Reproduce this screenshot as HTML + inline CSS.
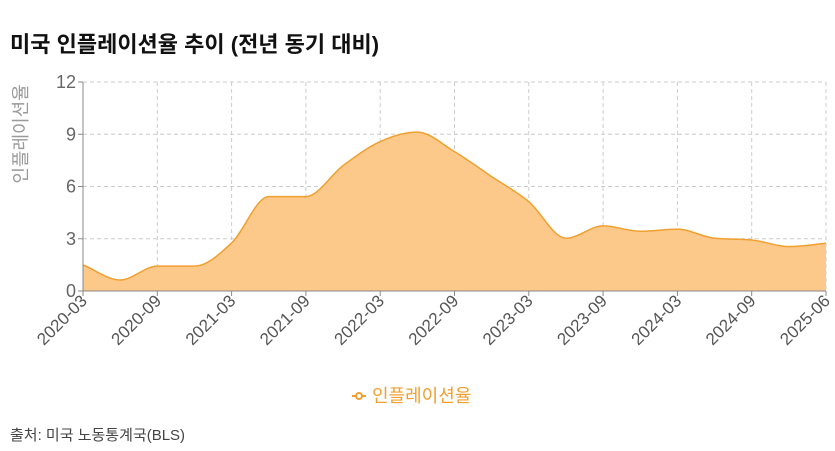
<!DOCTYPE html>
<html><head><meta charset="utf-8"><style>
body{margin:0;background:#fff;width:835px;height:446px;overflow:hidden;font-family:"Liberation Sans","Noto Sans CJK KR",sans-serif}
</style></head><body>
<svg width="835" height="446" xmlns="http://www.w3.org/2000/svg" style="font-family:'Liberation Sans','Noto Sans CJK KR',sans-serif">
<text x="10" y="52" font-size="22" font-weight="bold" fill="#111">미국 인플레이션율 추이 (전년 동기 대비)</text>
<g id="grid"></g>
<g id="series"></g>
<g id="axes"></g>
<text transform="translate(27,134) rotate(-90)" text-anchor="middle" font-size="18" fill="#999">인플레이션율</text>
<g>
<line x1="352" y1="396" x2="366" y2="396" stroke="#f0a030" stroke-width="2"/>
<circle cx="359" cy="396" r="3" fill="#fff" stroke="#f0a030" stroke-width="2"/>
<text x="372" y="402" font-size="18" fill="#f0a030">인플레이션율</text>
</g>
<text x="10" y="440" font-size="15" fill="#444">출처: 미국 노동통계국(BLS)</text>
</svg>
<script>
const categories=["2020-03","2020-06","2020-09","2020-12","2021-03","2021-06","2021-09","2021-12","2022-03","2022-06","2022-09","2022-12","2023-03","2023-06","2023-09","2023-12","2024-03","2024-06","2024-09","2025-01","2025-06"];
const values=[1.5,0.63,1.43,1.43,2.76,5.42,5.42,7.2,8.58,9.12,8.0,6.57,5.13,3.03,3.74,3.43,3.55,3.03,2.93,2.55,2.74];
const yTicks=[0,3,6,9,12];
const xLabelIdx=[0,2,4,6,8,10,12,14,16,18,20];
const NS="http://www.w3.org/2000/svg";
const L=83,R=826,T=82,B=291,yMax=12;
const xs=i=>L+i*(R-L)/(categories.length-1);
const ys=v=>B-v*(B-T)/yMax;
function mk(t,a,p){const e=document.createElementNS(NS,t);for(const k in a)e.setAttribute(k,a[k]);p.appendChild(e);return e;}
const grid=document.getElementById('grid'),axes=document.getElementById('axes'),series=document.getElementById('series');
yTicks.forEach(v=>{
 const g=mk('line',{x1:L,x2:R,y1:ys(v),y2:ys(v),stroke:'#ccc','stroke-dasharray':'4,3'},grid);
 
 
 const t=mk('text',{x:L-7,y:ys(v)+6,'text-anchor':'end','font-size':'18',fill:'#666'},axes);
 t.textContent=v;
 
 
 mk('line',{x1:L-5,x2:L,y1:ys(v),y2:ys(v),stroke:'#888'},axes);
});
xLabelIdx.forEach(i=>{
 const x=xs(i);
 const g=mk('line',{x1:x,x2:x,y1:T,y2:B,stroke:'#ccc','stroke-dasharray':'4,3'},grid);
 
 
 mk('line',{x1:x,x2:x,y1:B,y2:B+5,stroke:'#888'},axes);
 const t=mk('text',{transform:`translate(${x+5},${B+11}) rotate(-45)`,'text-anchor':'end','font-size':'17',fill:'#555'},axes);
 t.textContent=categories[i];
 
 
});
mk('line',{x1:L,x2:L,y1:T,y2:B,stroke:'#888'},axes);
mk('line',{x1:L,x2:R,y1:B,y2:B,stroke:'#888'},axes);
const P=values.map((v,i)=>[xs(i),ys(v)]);
const n=P.length,m=[],s=[];
for(let i=0;i<n-1;i++)s.push((P[i+1][1]-P[i][1])/(P[i+1][0]-P[i][0]));
for(let i=0;i<n;i++){
 if(i==0)m.push(s[0]);else if(i==n-1)m.push(s[n-2]);
 else{ if(s[i-1]*s[i]<=0)m.push(0);else{const h0=P[i][0]-P[i-1][0],h1=P[i+1][0]-P[i][0];const p=(s[i-1]*h1+s[i]*h0)/(h0+h1);m.push((Math.sign(s[i-1])+Math.sign(s[i]))*Math.min(Math.abs(s[i-1]),Math.abs(s[i]),0.5*Math.abs(p)));}}
}
let d=`M${P[0][0]},${P[0][1]}`;
for(let i=0;i<n-1;i++){const h=(P[i+1][0]-P[i][0])/3;d+=`C${P[i][0]+h},${P[i][1]+m[i]*h} ${P[i+1][0]-h},${P[i+1][1]-m[i+1]*h} ${P[i+1][0]},${P[i+1][1]}`;}
const area=mk('path',{d:d+`L${R},${B}L${L},${B}Z`,fill:'#fdc98a',stroke:'none'},series);


const line=mk('path',{d:d,fill:'none',stroke:'#f0a030','stroke-width':'1.5'},series);


</script>
</body></html>
